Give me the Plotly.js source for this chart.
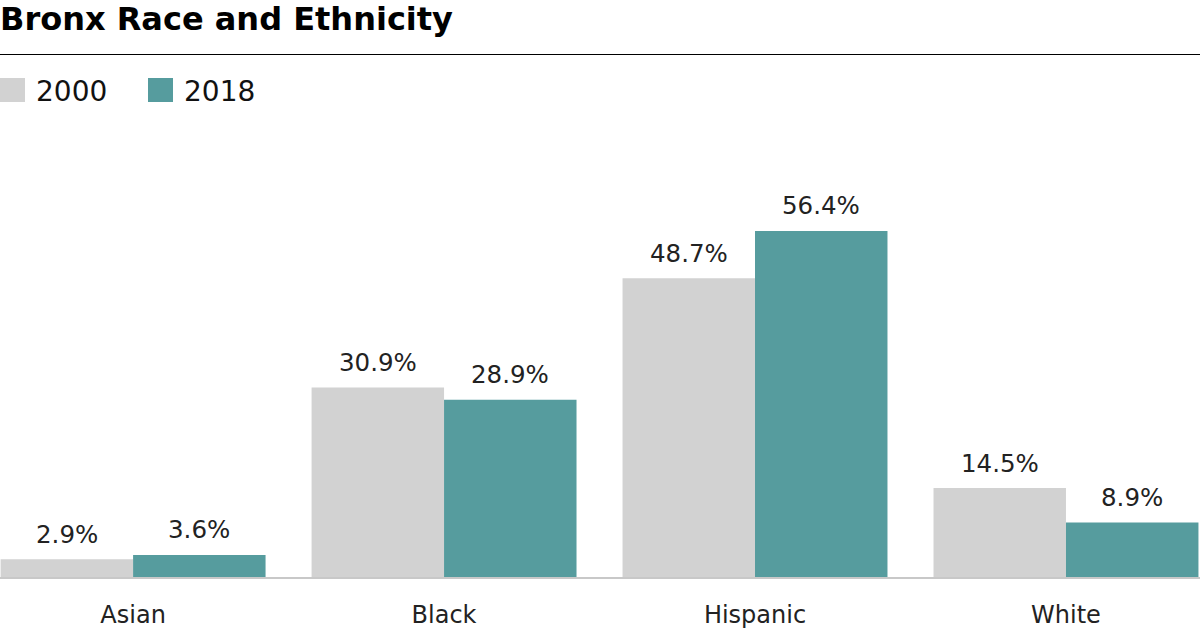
<!DOCTYPE html>
<html>
<head>
<meta charset="utf-8">
<script src="https://cdn.plot.ly/plotly-3.0.1.min.js"></script>
<style>html,body{margin:0;padding:0;background:#fff;}#chart{width:1200px;height:630px;}</style>
</head>
<body>
<div id="chart"></div>
<script>
const categories = ["Asian", "Black", "Hispanic", "White"];
const seriesNames = ["2000", "2018"];
const values2000 = [2.9, 30.9, 48.7, 14.5];
const values2018 = [3.6, 28.9, 56.4, 8.9];
const seriesColors = ["#d2d2d2", "#569c9e"];
const chartTitle = "Bronx Race and Ethnicity";

const W = 1200, H = 630;
const M = {l: 0, r: 0, t: 140, b: 53};
const plotH = H - M.t - M.b;
const px2paperX = px => (px - M.l) / (W - M.l - M.r);
const px2paperY = py => (H - M.b - py) / plotH;

const seriesValues = [values2000, values2018];
const traces = seriesValues.map((vals, i) => ({
  type: 'bar',
  x: categories,
  y: vals,
  name: seriesNames[i],
  marker: {color: seriesColors[i], line: {width: 0}},
  showlegend: false,
  hoverinfo: 'skip'
}));

const barOffset = 66;
const annotations = [];
seriesValues.forEach((vals, i) => {
  vals.forEach((v, j) => {
    annotations.push({
      x: categories[j], y: v, xref: 'x', yref: 'y',
      text: v.toFixed(1) + '%', showarrow: false,
      xshift: (i === 0 ? -barOffset : barOffset), yshift: 25,
      yanchor: 'middle', xanchor: 'center',
      font: {family: 'DejaVu Sans', size: 24.5, color: '#222'}
    });
  });
});

// custom legend
const shapes = [];
const legendX = [0, 148];
seriesNames.forEach((n, i) => {
  shapes.push({
    type: 'rect', xref: 'paper', yref: 'paper',
    x0: px2paperX(legendX[i]), x1: px2paperX(legendX[i] + 25),
    y0: px2paperY(102), y1: px2paperY(78),
    fillcolor: seriesColors[i], line: {width: 0}
  });
  annotations.push({
    xref: 'paper', yref: 'paper',
    x: px2paperX(legendX[i] + 34), y: px2paperY(91),
    xanchor: 'left', yanchor: 'middle', showarrow: false,
    text: n, font: {family: 'DejaVu Sans', size: 28, color: '#111'}
  });
});
// rule under title
shapes.push({
  type: 'line', xref: 'paper', yref: 'paper',
  x0: 0, x1: 1, y0: px2paperY(54.5), y1: px2paperY(54.5),
  line: {color: '#000', width: 1}
});

const layout = {
  width: W, height: H,
  margin: M,
  paper_bgcolor: '#fff', plot_bgcolor: '#fff',
  title: {
    text: '<b>' + chartTitle + '</b>',
    x: 0, xref: 'container', xanchor: 'left',
    y: 1 - 19 / H, yref: 'container', yanchor: 'middle',
    font: {family: 'DejaVu Sans', size: 32, color: '#000'}
  },
  barmode: 'group',
  bargap: 0.148,
  bargroupgap: 0,
  xaxis: {
    type: 'category',
    range: [-0.428, 3.431],
    showline: true, linecolor: '#c8c8c8', linewidth: 1.5,
    ticks: '', showgrid: false, zeroline: false,
    ticklabelstandoff: 16,
    tickfont: {family: 'DejaVu Sans', size: 24, color: '#222'},
    fixedrange: true
  },
  yaxis: {
    visible: false, range: [0, plotH / 6.135], fixedrange: true,
    showgrid: false, zeroline: false
  },
  shapes: shapes,
  annotations: annotations,
  showlegend: false
};

Plotly.newPlot('chart', traces, layout, {displayModeBar: false, staticPlot: true});
</script>
</body>
</html>
